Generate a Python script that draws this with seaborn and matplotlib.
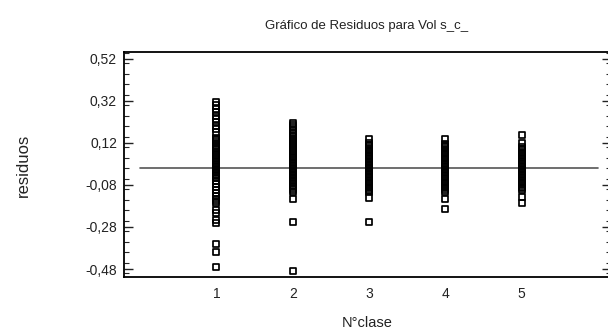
import matplotlib
matplotlib.use("Agg")
import matplotlib.pyplot as plt
import seaborn as sns
import pandas as pd
from matplotlib.ticker import MultipleLocator

# ---- data ----
clase_1 = [0.315, 0.298, 0.282, 0.266, 0.250, 0.234, 0.218, 0.202, 0.186, 0.170,
           0.145, 0.136, 0.127, 0.118, 0.108, 0.098, 0.088, 0.078, 0.069, 0.060,
           0.051, 0.043, 0.035, 0.027, 0.019, 0.011, 0.004, -0.003, -0.010, -0.017,
           -0.024, -0.031, -0.039, -0.047, -0.061, -0.075, -0.089, -0.103,
           -0.117, -0.131, -0.145, -0.158, -0.166,
           -0.198, -0.212, -0.246, -0.262, -0.360, -0.400, -0.472]
clase_2 = [0.215, 0.206, 0.195, 0.182, 0.168, 0.158, 0.148, 0.139, 0.129, 0.120,
           0.110, 0.100, 0.090, 0.080, 0.072, 0.063, 0.055, 0.047, 0.039, 0.031,
           0.023, 0.016, 0.009, 0.002, -0.005, -0.012, -0.018, -0.025, -0.031,
           -0.038, -0.046, -0.054, -0.062, -0.070, -0.078, -0.086, -0.094, -0.102,
           -0.113, -0.147, -0.258, -0.488]
clase_3 = [0.139, 0.120, 0.112, 0.104, 0.096, 0.088, 0.080, 0.072, 0.064, 0.057,
           0.050, 0.043, 0.036, 0.029, 0.022, 0.015, 0.008, 0.001, -0.006, -0.013,
           -0.020, -0.027, -0.034, -0.041, -0.048, -0.056, -0.064, -0.072, -0.080,
           -0.088, -0.096, -0.104, -0.113, -0.140, -0.255]
clase_4 = [0.139, 0.115, 0.106, 0.098, 0.090, 0.082, 0.074, 0.066, 0.058, 0.050,
           0.042, 0.034, 0.026, 0.018, 0.011, 0.004, -0.003, -0.010, -0.017, -0.024,
           -0.032, -0.040, -0.048, -0.056, -0.064, -0.072, -0.080, -0.088, -0.096,
           -0.104, -0.113, -0.147, -0.195]
clase_5 = [0.158, 0.120, 0.100, 0.090, 0.081, 0.073, 0.065, 0.057, 0.049, 0.041,
           0.033, 0.025, 0.017, 0.010, 0.003, -0.004, -0.011, -0.018, -0.025,
           -0.032, -0.040, -0.048, -0.056, -0.064, -0.072, -0.080, -0.088, -0.096,
           -0.105, -0.137, -0.165]

clases = [1, 2, 3, 4, 5]
residuos_por_clase = [clase_1, clase_2, clase_3, clase_4, clase_5]

y_ticks = [-0.48, -0.28, -0.08, 0.12, 0.32, 0.52]
y_tick_labels = ["-0,48", "-0,28", "-0,08", "0,12", "0,32", "0,52"]
x_ticks = [1, 2, 3, 4, 5]
x_tick_labels = ["1", "2", "3", "4", "5"]

titulo = "Gráfico de Residuos para Vol s_c_"
etiqueta_x = "N°clase"
etiqueta_y = "residuos"

# ---- build table ----
rows = []
for c, vals in zip(clases, residuos_por_clase):
    for v in vals:
        rows.append({"clase": c, "residuo": v})
df = pd.DataFrame(rows)

sns.set_style("white")
plt.rcParams["font.family"] = ["Liberation Sans", "DejaVu Sans"]

W, H = 608, 333
fig = plt.figure(figsize=(W / 100, H / 100), dpi=100)
left, right, top, bottom = 124, 611, 52, 277
ax = fig.add_axes([left / W, 1 - bottom / H, (right - left) / W, (bottom - top) / H])

ax.plot([0, 6], [0, 0], color="#555555", lw=1.2, zorder=1)

sns.scatterplot(data=df, x="clase", y="residuo", ax=ax, marker="s", s=20,
                facecolor="none", edgecolor="black", linewidth=1.25, zorder=3,
                legend=False)

ax.set_xlim(-0.21, 6.17)
ax.set_ylim(-0.518, 0.553)

ax.set_xticks(x_ticks)
ax.set_xticklabels(x_tick_labels, fontsize=10)
ax.set_yticks(y_ticks)
ax.set_yticklabels(y_tick_labels, fontsize=10)
ax.yaxis.set_minor_locator(MultipleLocator(0.05))

ax.tick_params(axis="x", which="both", length=0, pad=7, colors="#222222")
ax.tick_params(axis="y", which="major", direction="in", length=6.5, width=1,
               left=True, right=True, pad=5, colors="#222222")
ax.tick_params(axis="y", which="minor", direction="in", length=3.5, width=0.8,
               left=True, right=True)
for t in ax.get_xticklabels() + ax.get_yticklabels():
    t.set_color("#222222")

for sp in ax.spines.values():
    sp.set_visible(True)
    sp.set_color("black")
    sp.set_linewidth(1.3)

ax.set_xlabel("")
ax.set_ylabel("")

fig.text(367 / W, 1 - 26 / H, titulo, ha="center", va="center", fontsize=9.5, color="#222222")
fig.text(367 / W, 1 - 323 / H, etiqueta_x, ha="center", va="center", fontsize=10.5, color="#222222")
fig.text(23 / W, 1 - 165 / H, etiqueta_y, ha="center", va="center", rotation=90,
         fontsize=12, color="#222222")

fig.savefig("out.png", dpi=100)
